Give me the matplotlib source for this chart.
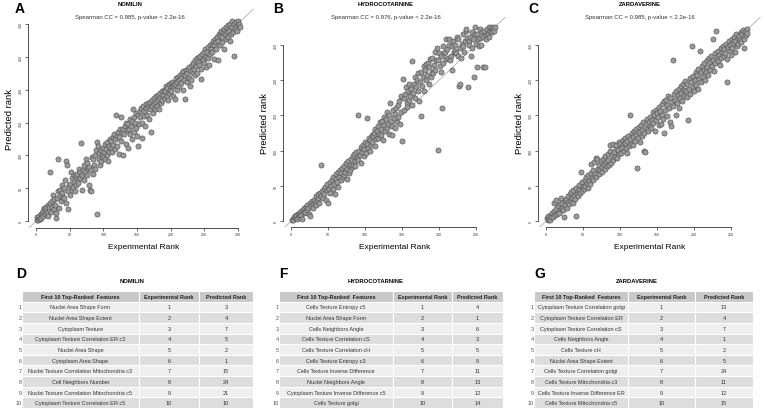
import matplotlib
matplotlib.use("Agg")
import matplotlib.pyplot as plt
import numpy as np

plt.rcParams['font.family'] = ['Liberation Sans', 'DejaVu Sans']

# ---- scatter data: predicted rank for experimental rank 1..N ----
drugs = ["NOMILIN", "HYDROCOTARNINE", "ZARDAVERINE"]
spearman = ["0.985", "0.976", "0.985"]
panel_letters = ["A", "B", "C"]
table_letters = ["D", "F", "G"]

pred_nomilin = [
    2, 6, 1, 4, 8, 3, 10, 5, 12, 7,
    15, 20, 10, 18, 22, 12, 25, 8, 21, 75,
    28, 14, 30, 22, 40, 18, 33, 25, 5, 12,
    35, 94, 45, 20, 38, 48, 30, 55, 42, 36,
    35, 50, 62, 28, 92, 86, 45, 18, 55, 40,
    57, 75, 48, 65, 52, 70, 60, 45, 68, 55,
    72, 63, 58, 80, 66, 75, 119, 48, 70, 78,
    62, 85, 75, 95, 70, 88, 80, 55, 82, 48,
    45, 78, 98, 72, 95, 85, 100, 80, 108, 121,
    10, 115, 95, 103, 85, 108, 92, 100, 112, 98,
    105, 118, 95, 110, 100, 120, 92, 115, 105, 125,
    112, 122, 105, 128, 116, 132, 110, 125, 162, 130,
    115, 135, 128, 102, 140, 158, 122, 135, 100, 140,
    132, 145, 118, 150, 138, 112, 148, 140, 155, 132,
    145, 125, 152, 170, 135, 158, 150, 165, 142, 130,
    114, 162, 148, 168, 158, 172, 150, 126, 175, 160,
    168, 145, 172, 178, 162, 175, 180, 155, 170, 182,
    135, 175, 185, 165, 178, 188, 170, 182, 190, 175,
    185, 192, 170, 188, 195, 180, 198, 185, 192, 200,
    188, 198, 205, 190, 202, 185, 208, 195, 200, 210,
    198, 212, 205, 190, 209, 186, 208, 218, 200, 212,
    220, 205, 215, 222, 210, 218, 225, 200, 228, 215,
    186, 222, 230, 212, 225, 232, 218, 235, 205, 228,
    215, 238, 225, 240, 232, 222, 245, 236, 248, 226,
    242, 250, 238, 252, 217, 231, 255, 245, 258, 240,
    262, 250, 234, 258, 265, 248, 238, 268, 255, 262,
    270, 258, 275, 247, 268, 278, 262, 272, 280, 245,
    275, 285, 268, 282, 290, 272, 280, 288, 262, 292,
    285, 278, 295, 288, 280, 298, 290, 275, 300, 285,
    295, 305, 288, 252, 300, 292, 303, 296, 290, 305,
    298, 300, 295,
]

pred_hydro = [
    1, 3, 2, 5, 7, 4, 8, 3, 10, 6,
    12, 9, 14, 8, 3, 15, 11, 18, 13, 20,
    16, 22, 19, 10, 25, 7, 21, 28, 24, 18,
    30, 26, 22, 35, 28, 32, 38, 25, 40, 80,
    36, 42, 33, 45, 38, 48, 30, 44, 52, 25,
    46, 55, 40, 50, 58, 45, 62, 52, 38, 60,
    66, 55, 70, 48, 63, 72, 58, 68, 75, 62,
    78, 65, 70, 82, 60, 74, 85, 68, 80, 72,
    88, 76, 92, 80, 95, 85, 78, 98, 90, 150,
    86, 100, 94, 82, 105, 98, 108, 92, 102, 112,
    96, 146, 110, 104, 118, 100, 115, 108, 122, 112,
    120, 125, 106, 130, 116, 128, 135, 118, 124, 140,
    130, 122, 142, 115, 136, 148, 128, 145, 132, 155,
    138, 150, 124, 168, 142, 135, 122, 158, 146, 132,
    152, 160, 140, 165, 148, 170, 138, 178, 155, 113,
    202, 175, 158, 180, 190, 168, 162, 185, 172, 195,
    178, 188, 165, 227, 182, 195, 175, 205, 190, 200,
    184, 210, 170, 198, 149, 212, 192, 205, 220, 185,
    215, 200, 223, 208, 225, 195, 218, 230, 205, 212,
    232, 210, 222, 240, 215, 228, 245, 101, 228, 238,
    220, 235, 212, 160, 248, 225, 238, 240, 230, 258,
    244, 232, 250, 259, 228, 235, 248, 215, 255, 240,
    242, 250, 238, 262, 235, 258, 192, 245, 195, 232,
    252, 248, 265, 240, 256, 270, 272, 260, 190, 255,
    250, 262, 235, 268, 245, 258, 205, 265, 275, 252,
    219, 266, 258, 248, 272, 260, 250, 268, 219, 262,
    270, 218, 264, 258, 272, 265, 276, 262, 270, 274,
    268, 275, 272, 270, 276,
]

pred_zard = [
    4, 1, 7, 3, 2, 9, 5, 12, 6, 25,
    14, 8, 30, 17, 10, 21, 13, 11, 24, 32,
    18, 26, 15, 5, 29, 22, 31, 19, 35, 27,
    24, 38, 29, 41, 33, 26, 44, 36, 31, 7,
    47, 39, 35, 51, 44, 40, 70, 42, 55, 48,
    45, 58, 50, 62, 54, 47, 65, 57, 52, 68,
    81, 61, 72, 58, 84, 66, 90, 63, 88, 74,
    67, 79, 72, 85, 76, 70, 88, 81, 74, 92,
    84, 78, 95, 87, 80, 99, 108, 82, 93, 110,
    86, 98, 91, 104, 108, 89, 101, 95, 112, 109,
    97, 107, 103, 115, 100, 111, 118, 104, 96, 113,
    120, 107, 150, 116, 110, 125, 119, 108, 128, 114,
    122, 131, 75, 118, 134, 126, 112, 137, 129, 121,
    140, 125, 100, 98, 138, 131, 145, 128, 141, 135,
    148, 132, 144, 155, 139, 150, 128, 158, 143, 153,
    147, 162, 136, 156, 138, 166, 151, 145, 170, 125,
    158, 172, 149, 165, 178, 160, 140, 175, 135, 169,
    228, 163, 181, 172, 150, 185, 168, 179, 160, 188,
    174, 191, 182, 170, 195, 186, 178, 199, 184, 176,
    194, 144, 188, 203, 181, 198, 248, 190, 206, 185,
    200, 212, 193, 208, 188, 216, 202, 242, 197, 211,
    220, 205, 215, 224, 200, 212, 228, 218, 207, 231,
    214, 226, 235, 220, 258, 229, 213, 238, 224, 270,
    233, 227, 242, 236, 222, 245, 232, 240, 249, 234,
    244, 238, 252, 230, 198, 247, 255, 241, 250, 236,
    258, 246, 253, 262, 240, 256, 265, 249, 260, 252,
    263, 257, 268, 254, 266, 271, 259, 246, 269, 264,
    272, 267,
]

# ---- table data ----
table_header = ["", "First 10 Top-Ranked  Features", "Experimental Rank", "Predicted Rank"]
features_nomilin = [
    "Nuclei Area Shape Form", "Nuclei Area Shape Extent", "Cytoplasm Texture",
    "Cytoplasm Texture Correlation ER c3", "Nuclei Area Shape", "Cytoplasm Area Shape",
    "Nuclei Texture Correlation Mitochondria c3", "Cell Neighbors Number",
    "Nuclei Texture Correlation Mitochondria c5", "Cytoplasm Texture Correlation ER c5",
]
features_hydro = [
    "Cells Texture Entropy c5", "Nuclei Area Shape Form", "Cells Neighbors Angle",
    "Cells Texture Correlation cS", "Cells Texture Correlation cH", "Cells Texture Entropy c3",
    "Cells Texture Inverse Difference", "Nuclei Neighbors Angle",
    "Cytoplasm Texture Inverse Difference c5", "Cells Texture golgi",
]
features_zard = [
    "Cytoplasm Texture Correlation golgi", "Cytoplasm Texture Correlation ER",
    "Cytoplasm Texture Correlation cS", "Cells Neighbors Angle", "Cells Texture cH",
    "Nuclei Area Shape Extent", "Cells Texture Correlation golgi",
    "Cells Texture Mitochondria c3", "Cells Texture Inverse Difference ER",
    "Cells Texture Mitochondria c5",
]
exp_rank = [1, 2, 3, 4, 5, 6, 7, 8, 9, 10]
top_pred_nomilin = [3, 4, 7, 5, 2, 1, 15, 24, 21, 10]
top_pred_hydro = [4, 1, 6, 3, 5, 9, 11, 13, 12, 14]
top_pred_zard = [13, 4, 7, 1, 2, 5, 24, 11, 12, 15]

W, H = 764, 410
fig = plt.figure(figsize=(W / 100, H / 100), dpi=100)


def fx(px):
    return px / W


def fy(px):
    return 1 - px / H


# ---- scatter panels ----
scatter_specs = [
    # (left px, right px, top px, bottom px, xlim, ylim, tick max)
    (28, 260, 10, 228.6, (-12, 333), (-10, 323), 300),
    (283, 505.6, 17.8, 228.3, (-11, 290), (-9, 290), 250),
    (538, 760.6, 17.8, 228.3, (-11, 290), (-9, 290), 250),
]
title_cx = [130, 386, 640]
preds = [pred_nomilin, pred_hydro, pred_zard]

for i, (l, r, t, b, xl, yl, tmax) in enumerate(scatter_specs):
    ax = fig.add_axes([fx(l), fy(b), (r - l) / W, (b - t) / H])
    y = np.array(preds[i])
    x = np.arange(1, len(y) + 1)
    ax.axline((0, 0), slope=1, color="#b0b0b0", lw=0.6, zorder=1)
    ax.scatter(x, y, s=14, facecolor="#9a9a9a", edgecolor="#4a4a4a",
               linewidths=0.4, zorder=2)
    ax.set_xlim(*xl)
    ax.set_ylim(*yl)
    ticks = np.arange(0, tmax + 1, 50)
    ax.set_xticks(ticks)
    ax.set_yticks(ticks)
    for s in ["top", "right"]:
        ax.spines[s].set_visible(False)
    for s in ["left", "bottom"]:
        ax.spines[s].set_bounds(0, tmax)
        ax.spines[s].set_linewidth(0.6)
        ax.spines[s].set_color("#333333")
    ax.tick_params(length=2, width=0.5, labelsize=2.6, pad=1.5, colors="#333333")
    ax.tick_params(axis="y", labelrotation=90)
    for lab in ax.get_yticklabels():
        lab.set_va("center")
    ax.set_xlabel("Experimental Rank", fontsize=6, labelpad=5)
    ax.set_ylabel("Predicted rank", fontsize=6.8, labelpad=4)

    fig.text(fx(l - 13 if i == 0 else l - 10), fy(2), panel_letters[i],
             fontsize=10, fontweight="bold", va="top", ha="left")
    fig.text(fx(title_cx[i]), fy(4), drugs[i], fontsize=4.2,
             fontweight="bold", ha="center", va="center")
    fig.text(fx(title_cx[i]), fy(17),
             f"Spearman CC = {spearman[i]}, p-value < 2.2e-16",
             fontsize=4.3, ha="center", va="center", color="#333333")

# ---- tables ----
table_specs = [
    (13, 253, [9, 117, 60, 54], features_nomilin, top_pred_nomilin, 132, 16),
    (270, 503, [9, 114, 59, 51], features_hydro, top_pred_hydro, 376, 279),
    (525, 753, [9, 94, 67, 58], features_zard, top_pred_zard, 637, 534),
]
t_top, t_bot = 292, 409

for i, (l, r, cw, feats, tpred, cx, letter_x) in enumerate(table_specs):
    ax = fig.add_axes([fx(l), fy(t_bot), (r - l) / W, (t_bot - t_top) / H])
    ax.axis("off")
    rows = [[str(k + 1), feats[k], str(exp_rank[k]), str(tpred[k])]
            for k in range(len(feats))]
    tb = ax.table(cellText=rows, colLabels=table_header, bbox=[0, 0, 1, 1],
                  colWidths=[c / sum(cw) for c in cw], cellLoc="center")
    tb.auto_set_font_size(False)
    tb.set_fontsize(4)
    for (ri, ci), cell in tb.get_celld().items():
        cell.set_edgecolor("white")
        cell.set_linewidth(0.8)
        cell.PAD = 0.02
        if ci == 0:
            cell.set_facecolor("white")
            cell.get_text().set_ha("right")
            cell.get_text().set_color("#555555")
            continue
        if ri == 0:
            cell.set_facecolor("#c8c8c8")
            cell.get_text().set_fontweight("bold")
            cell.get_text().set_color("#222222")
        else:
            cell.set_facecolor("#efefef" if ri % 2 == 1 else "#dddddd")
            cell.get_text().set_color("#333333")

    fig.text(fx(letter_x), fy(267), table_letters[i], fontsize=10,
             fontweight="bold", va="top", ha="left")
    fig.text(fx(cx), fy(282), drugs[i], fontsize=4.2, fontweight="bold",
             ha="center", va="center")

fig.savefig("out.png", dpi=100)
